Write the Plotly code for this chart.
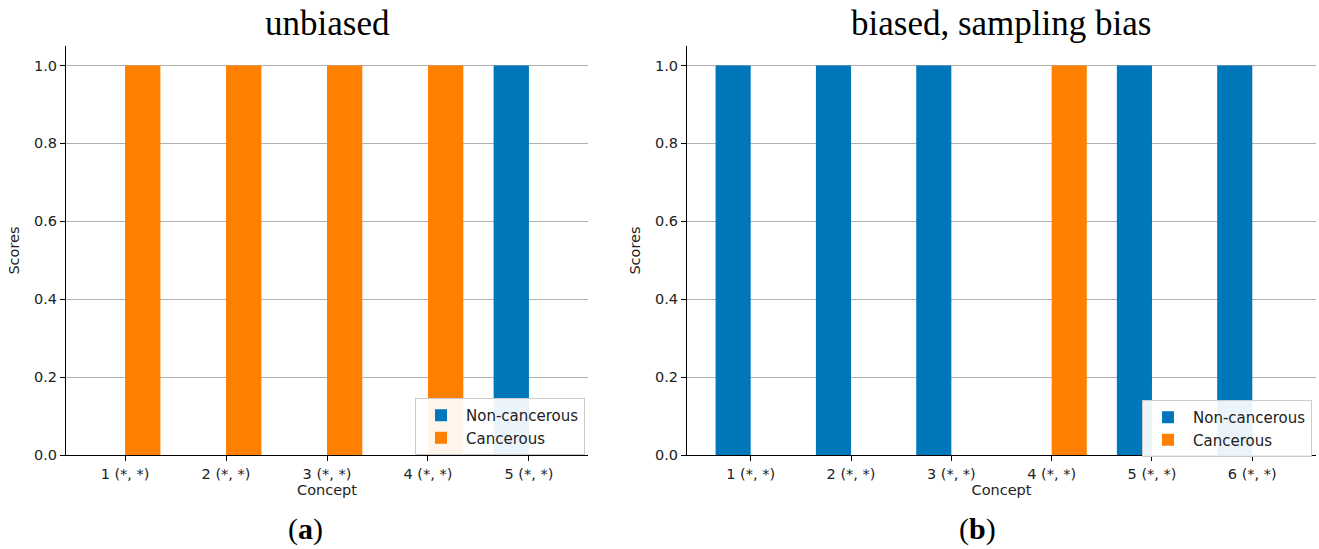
import plotly.graph_objects as go

# Data
concepts_a = ["1 (*, *)", "2 (*, *)", "3 (*, *)", "4 (*, *)", "5 (*, *)"]
noncancer_a = [0, 0, 0, 0, 1]
cancer_a = [1, 1, 1, 1, 0]

concepts_b = ["1 (*, *)", "2 (*, *)", "3 (*, *)", "4 (*, *)", "5 (*, *)", "6 (*, *)"]
noncancer_b = [1, 1, 1, 0, 1, 1]
cancer_b = [0, 0, 0, 1, 0, 0]

title_a = "unbiased"
title_b = "biased, sampling bias"

BLUE = "#0077BB"
ORANGE = "#FF8000"
W = 0.35
H = 549
WID = 1319

fig = go.Figure()

def add_panel(concepts, nonc, canc, xa, ya, legend):
    xs = list(range(1, len(concepts) + 1))
    fig.add_trace(go.Bar(x=xs, y=nonc, width=W, offset=-W, name="Non-cancerous",
                         marker=dict(color=BLUE, line=dict(width=0)),
                         xaxis=xa, yaxis=ya, legend=legend))
    fig.add_trace(go.Bar(x=xs, y=canc, width=W, offset=0, name="Cancerous",
                         marker=dict(color=ORANGE, line=dict(width=0)),
                         xaxis=xa, yaxis=ya, legend=legend))

add_panel(concepts_a, noncancer_a, cancer_a, "x", "y", "legend")
add_panel(concepts_b, noncancer_b, cancer_b, "x2", "y2", "legend2")

tickfont = dict(family="DejaVu Sans", size=14.5, color="#222")
ydom = [1 - 455 / H, 1 - 46 / H]
dom_a = [66 / WID, 588 / WID]
dom_b = [687 / WID, 1316 / WID]

def xaxis(concepts, dom, anchor):
    n = len(concepts)
    margin = 0.05 * (n - 1 + 2 * W)
    return dict(domain=dom, anchor=anchor, range=[1 - W - margin, n + W + margin],
                tickvals=list(range(1, n + 1)), ticktext=concepts, automargin=False,
                showline=True, linecolor="black", linewidth=1.2, mirror=False,
                ticks="outside", ticklen=5, tickcolor="black", tickwidth=1,
                showgrid=False, zeroline=False, tickfont=tickfont,
                title=dict(text="Concept", font=tickfont, standoff=4))

def yaxis(anchor):
    return dict(domain=ydom, anchor=anchor, range=[0, 1.05], automargin=False,
                tickvals=[0, 0.2, 0.4, 0.6, 0.8, 1.0], tickformat=".1f",
                showline=True, linecolor="black", linewidth=1.2,
                ticks="outside", ticklen=5, tickcolor="black", tickwidth=1,
                showgrid=True, gridcolor="#b0b0b0", gridwidth=1, zeroline=False,
                tickfont=tickfont,
                title=dict(text="Scores", font=tickfont, standoff=10))

legstyle = dict(bgcolor="rgba(255,255,255,0.92)", bordercolor="#cccccc", borderwidth=1,
                font=dict(family="DejaVu Sans", size=15, color="#222"),
                xanchor="left", yanchor="top", itemsizing="constant",
                itemwidth=40, tracegroupgap=0)

fig.update_layout(
    width=WID, height=H,
    margin=dict(l=0, r=0, t=0, b=0),
    plot_bgcolor="white", paper_bgcolor="white",
    barmode="overlay",
    showlegend=True,
    xaxis=xaxis(concepts_a, dom_a, "y"),
    yaxis=yaxis("x"),
    xaxis2=xaxis(concepts_b, dom_b, "y2"),
    yaxis2=yaxis("x2"),
    legend=dict(x=415 / WID, y=1 - 398 / H, **legstyle),
    legend2=dict(x=1142 / WID, y=1 - 400 / H, **legstyle),
)

serif = "Liberation Serif"
for txt, dom in [(title_a, dom_a), (title_b, dom_b)]:
    fig.add_annotation(text=txt, x=(dom[0] + dom[1]) / 2, y=1 - 23 / H,
                       xref="paper", yref="paper", showarrow=False,
                       xanchor="center", yanchor="middle",
                       font=dict(family=serif, size=35, color="black"))
for txt, xc in [("(<b>a</b>)", 305 / WID), ("(<b>b</b>)", 978 / WID)]:
    fig.add_annotation(text=txt, x=xc, y=1 - 529 / H,
                       xref="paper", yref="paper", showarrow=False,
                       xanchor="center", yanchor="middle",
                       font=dict(family=serif, size=30, color="black"))

fig.write_html("out.html", config={"displayModeBar": False},
               post_script="document.body.style.margin='0';document.body.style.overflow='hidden';")
